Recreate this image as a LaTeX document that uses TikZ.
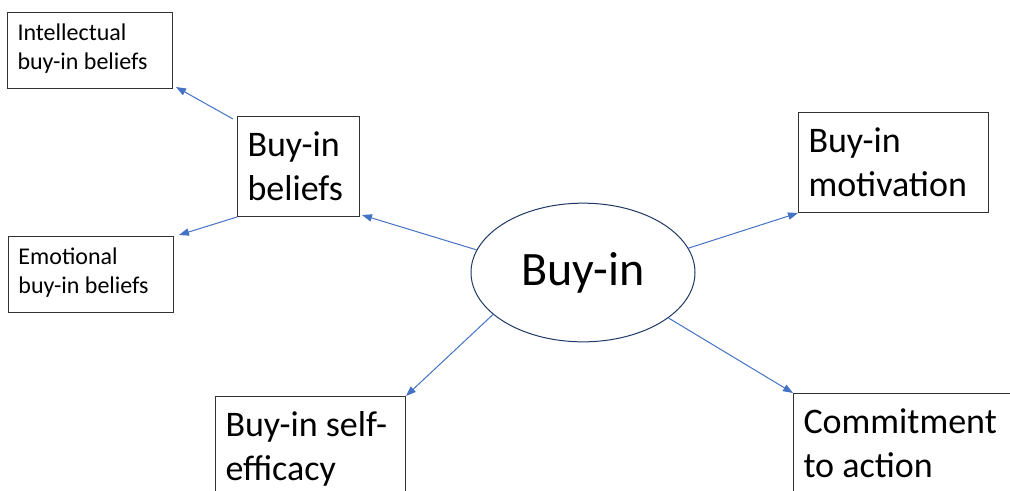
\documentclass[tikz,border=0pt]{standalone}
\usepackage{fontspec}
\setmainfont{Carlito}
\usetikzlibrary{arrows.meta,shapes.geometric}
\definecolor{linkblue}{HTML}{4472C4}
\definecolor{hubline}{HTML}{1F3864}

\begin{document}
\begin{tikzpicture}[x=0.75pt,y=0.75pt,yscale=-1,xscale=1,
	smallbox/.style={draw=black!80, line width=0.75pt, anchor=north west, align=flush left, text width=108.75pt,
		inner xsep=7.5pt, inner ysep=0pt, text height=21pt, text depth=36pt, font=\fontsize{18}{21.5}\selectfont},
	bigbox/.style={draw=black!80, line width=0.75pt, anchor=north west, align=flush left,
		inner xsep=7.5pt, inner ysep=0pt, text height=30pt, text depth=45pt, font=\fontsize{27}{33}\selectfont},
	hub/.style={ellipse, draw=hubline, line width=0.75pt, minimum width=168pt, minimum height=104pt,
		inner sep=0pt, font=\fontsize{36}{44}\selectfont},
	link/.style={draw=linkblue, line width=0.75pt, -{Triangle[length=7.5pt,width=5.5pt]}}]
	\clip (0,0) rectangle (1010,490);

	\node[hub] (buyin) at (583,272.5) {Buy-in};

	\node[bigbox, text width=76.5pt] (beliefs) at (237,116) {Buy-in\\beliefs};
	\node[bigbox, text width=127.5pt] (motiv) at (798,112) {Buy-in\\motivation};
	\node[bigbox, text width=127.5pt] (selfeff) at (215,396) {Buy-in self-\\efficacy};
	\node[bigbox, text width=160pt] (commit) at (793,393) {Commitment\\to action};

	\node[smallbox] (intel) at (7,12) {Intellectual\\buy-in beliefs};
	\node[smallbox] (emot) at (8,236) {Emotional\\buy-in beliefs};

	\draw[link] (buyin.168) -- ([shift={(2,-2)}]beliefs.south east);
	\draw[link] (buyin.13) -- (motiv.south west);
	\draw[link] (buyin.205) -- (selfeff.north east);
	\draw[link] (buyin.332) -- (commit.north west);
	\draw[link] ([shift={(-4,3)}]beliefs.north west) -- ([shift={(3,-2)}]intel.south east);
	\draw[link] (beliefs.south west) -- ([shift={(5,-1)}]emot.north east);
\end{tikzpicture}
\end{document}
